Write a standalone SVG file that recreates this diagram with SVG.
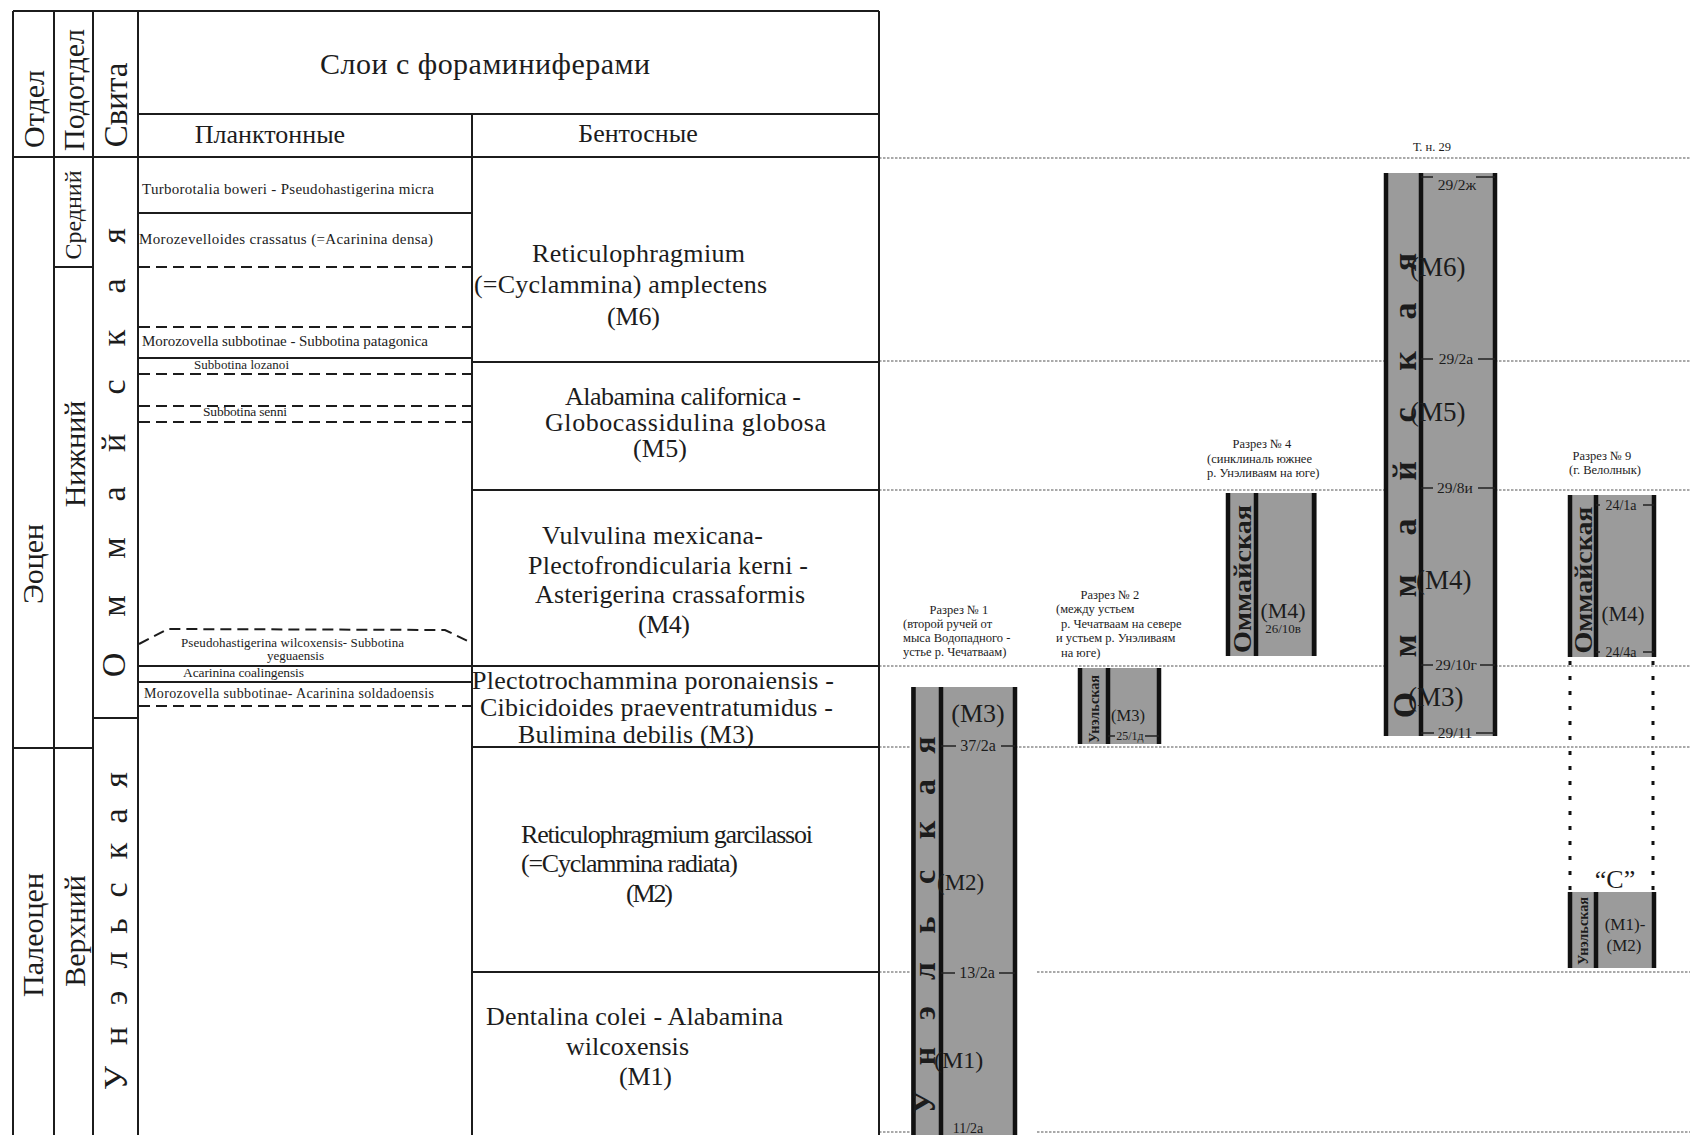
<svg xmlns="http://www.w3.org/2000/svg" width="1690" height="1135" viewBox="0 0 1690 1135">
<style>
.s{font-family:"Liberation Serif","Times New Roman",serif;fill:#1c1c1c}
.b{font-weight:bold}
.m{text-anchor:middle}
.ln{stroke:#1c1c1c;stroke-width:2;fill:none}
.ds{stroke:#1c1c1c;stroke-width:2;fill:none;stroke-dasharray:11 6}
.dt{stroke:#555;stroke-width:1.2;stroke-dasharray:2.5 1.5;fill:none}
.gr{fill:#9b9b9b}
.th{stroke:#111;stroke-width:4.5}
.tk{stroke:#222;stroke-width:1.5}
.vd{stroke:#111;stroke-width:3;stroke-dasharray:4 11;fill:none}
</style>
<rect width="1690" height="1135" fill="#fff"/>

<g id="connectors">
<line class="dt" x1="879" y1="158" x2="1690" y2="158"/>
<line class="dt" x1="879" y1="361" x2="1690" y2="361"/>
<line class="dt" x1="879" y1="490" x2="1690" y2="490"/>
<line class="dt" x1="879" y1="666" x2="1690" y2="666"/>
<line class="dt" x1="879" y1="747" x2="1690" y2="747"/>
<line class="dt" x1="879" y1="972" x2="1017" y2="972"/>
<line class="dt" x1="1037" y1="972" x2="1690" y2="972"/>
<line class="dt" x1="879" y1="1132" x2="1017" y2="1132"/>
<line class="dt" x1="1037" y1="1132" x2="1690" y2="1132"/>
<line class="vd" x1="1570" y1="661" x2="1570" y2="890"/>
<line class="vd" x1="1653" y1="661" x2="1653" y2="890"/>
</g>

<g id="table">
<line class="ln" x1="13" y1="11" x2="879" y2="11"/>
<line class="ln" x1="138" y1="114" x2="879" y2="114"/>
<line class="ln" x1="13" y1="157" x2="879" y2="157"/>
<line class="ln" x1="13" y1="11" x2="13" y2="1135"/>
<line class="ln" x1="54" y1="11" x2="54" y2="1135"/>
<line class="ln" x1="93" y1="11" x2="93" y2="1135"/>
<line class="ln" x1="138" y1="11" x2="138" y2="1135"/>
<line class="ln" x1="472" y1="114" x2="472" y2="1135"/>
<line class="ln" x1="879" y1="11" x2="879" y2="1135"/>
<line class="ln" x1="54" y1="267" x2="93" y2="267"/>
<line class="ln" x1="93" y1="718" x2="138" y2="718"/>
<line class="ln" x1="13" y1="748" x2="93" y2="748"/>
<line class="ln" x1="138" y1="213" x2="472" y2="213"/>
<line class="ln" x1="138" y1="358" x2="472" y2="358"/>
<line class="ln" x1="138" y1="666" x2="879" y2="666"/>
<line class="ln" x1="138" y1="682" x2="472" y2="682"/>
<line class="ln" x1="472" y1="362" x2="879" y2="362"/>
<line class="ln" x1="472" y1="490" x2="879" y2="490"/>
<line class="ln" x1="472" y1="747" x2="879" y2="747"/>
<line class="ln" x1="472" y1="972" x2="879" y2="972"/>
<line class="ds" x1="139" y1="267" x2="471" y2="267"/>
<line class="ds" x1="139" y1="327" x2="471" y2="327"/>
<line class="ds" x1="139" y1="374" x2="471" y2="374"/>
<line class="ds" x1="139" y1="406" x2="471" y2="406"/>
<line class="ds" x1="139" y1="422" x2="471" y2="422"/>
<line class="ds" x1="139" y1="706" x2="471" y2="706"/>
<path class="ds" d="M139,644 L168,629 L445,630 L472,643"/>

<text class="s m" font-size="30" x="485" y="74" textLength="330">Слои с фораминиферами</text>
<text class="s m" font-size="26" x="270" y="143">Планктонные</text>
<text class="s m" font-size="26" x="638" y="142">Бентосные</text>

<text class="s m" font-size="30" transform="translate(44,109) rotate(-90)">Отдел</text>
<text class="s m" font-size="30" transform="translate(84,90) rotate(-90)">Подотдел</text>
<text class="s m" font-size="33" transform="translate(127,105) rotate(-90)">Свита</text>
<text class="s m" font-size="30" transform="translate(43,564) rotate(-90)">Эоцен</text>
<text class="s m" font-size="30" transform="translate(43,935) rotate(-90)">Палеоцен</text>
<text class="s m" font-size="24" transform="translate(81,215) rotate(-90)">Средний</text>
<text class="s m" font-size="30" transform="translate(85,454) rotate(-90)">Нижний</text>
<text class="s m" font-size="30" transform="translate(85,931) rotate(-90)">Верхний</text>
<text class="s m" font-size="34" transform="translate(125,0) rotate(-90)" x="-665 -636 -606 -577 -548 -521 -494 -468 -443 -415 -387 -362 -338 -312 -286 -261 -236" y="0">О м м а й с к а я</text>
<text class="s m" font-size="34" transform="translate(127,0) rotate(-90)" x="-1078 -1057 -1036 -1017 -998 -979 -960 -943 -926 -908 -890 -870 -851 -833 -816 -799 -780" y="0">У н э л ь с к а я</text>

<text class="s" font-size="15" x="142" y="194" textLength="292">Turborotalia boweri - Pseudohastigerina micra</text>
<text class="s" font-size="15" x="139" y="244" textLength="294">Morozevelloides crassatus (=Acarinina densa)</text>
<text class="s" font-size="15" x="142" y="346" textLength="286">Morozovella subbotinae - Subbotina patagonica</text>
<text class="s" font-size="13" x="194" y="369" textLength="95">Subbotina lozanoi</text>
<text class="s" font-size="13.5" x="203" y="416" textLength="84">Subbotina senni</text>
<text class="s" font-size="13" x="181" y="647" textLength="223">Pseudohastigerina wilcoxensis- Subbotina</text>
<text class="s" font-size="13" x="267" y="660" textLength="57">yeguaensis</text>
<text class="s" font-size="13.5" x="183" y="677" textLength="121">Acarinina coalingensis</text>
<text class="s" font-size="14" x="144" y="698" textLength="290">Morozovella subbotinae- Acarinina soldadoensis</text>

<text class="s" font-size="26" x="532" y="262" textLength="213">Reticulophragmium</text>
<text class="s" font-size="26" x="474" y="293" textLength="293">(=Cyclammina) amplectens</text>
<text class="s" font-size="26" x="607" y="325" textLength="53">(M6)</text>
<text class="s" font-size="26" x="565" y="405" textLength="236">Alabamina californica -</text>
<text class="s" font-size="26" x="545" y="431" textLength="281">Globocassidulina  globosa</text>
<text class="s" font-size="26" x="633" y="457" textLength="54">(M5)</text>
<text class="s" font-size="26" x="542" y="544" textLength="221">Vulvulina mexicana-</text>
<text class="s" font-size="26" x="528" y="574" textLength="280">Plectofrondicularia kerni -</text>
<text class="s" font-size="26" x="535" y="603" textLength="270">Asterigerina crassaformis</text>
<text class="s" font-size="26" x="638" y="633" textLength="52">(M4)</text>
<text class="s" font-size="26" x="472" y="689" textLength="362">Plectotrochammina poronaiensis -</text>
<text class="s" font-size="26" x="480" y="716" textLength="353">Cibicidoides praeventratumidus -</text>
<text class="s" font-size="26" x="518" y="743" textLength="236">Bulimina debilis (M3)</text>
<text class="s" font-size="26" x="521" y="843" textLength="292">Reticulophragmium garcilassoi</text>
<text class="s" font-size="26" x="521" y="872" textLength="217">(=Cyclammina radiata)</text>
<text class="s" font-size="26" x="626" y="902" textLength="47">(M2)</text>
<text class="s" font-size="26" x="486" y="1025" textLength="297">Dentalina colei - Alabamina</text>
<text class="s" font-size="26" x="566" y="1055" textLength="123">wilcoxensis</text>
<text class="s" font-size="26" x="619" y="1085" textLength="53">(M1)</text>
</g>

<g id="section1">
<text class="s m" font-size="12.5" x="959" y="614">Разрез № 1</text>
<text class="s" font-size="12.5" x="903" y="628">(второй ручей от</text>
<text class="s" font-size="12.5" x="903" y="642">мыса Водопадного -</text>
<text class="s" font-size="12.5" x="903" y="656">устье р. Чечатваам)</text>
<rect class="gr" x="911" y="687" width="106" height="448"/>
<line class="th" x1="913.5" y1="687" x2="913.5" y2="1135"/>
<line class="th" x1="941" y1="687" x2="941" y2="1135"/>
<line class="th" x1="1015" y1="687" x2="1015" y2="1135"/>
<line class="tk" x1="941" y1="746" x2="956" y2="746"/>
<line class="tk" x1="1001" y1="746" x2="1015" y2="746"/>
<line class="tk" x1="941" y1="973" x2="955" y2="973"/>
<line class="tk" x1="999" y1="973" x2="1015" y2="973"/>
<text class="s m b" font-size="32" transform="translate(935,0) rotate(-90)" x="-1102 -1079 -1056 -1034 -1013 -992 -971 -948 -925 -901 -877 -853 -830 -808 -787 -766 -745" y="0">У н э л ь с к а я</text>
<text class="s m" font-size="26" x="978" y="722">(M3)</text>
<text class="s m" font-size="16" x="978" y="751">37/2а</text>
<text class="s" font-size="23" x="937" y="890">(M2)</text>
<text class="s m" font-size="16" x="977" y="978">13/2а</text>
<text class="s" font-size="24" x="934" y="1068">(M1)</text>
<text class="s m" font-size="14" x="968" y="1133">11/2а</text>
</g>

<g id="section2">
<text class="s m" font-size="12.5" x="1110" y="599">Разрез № 2</text>
<text class="s" font-size="12.5" x="1056" y="613">(между устьем</text>
<text class="s" font-size="12.5" x="1061" y="628">р. Чечатваам на севере</text>
<text class="s" font-size="12.5" x="1056" y="642">и устьем р. Унэливаям</text>
<text class="s" font-size="12.5" x="1061" y="657">на юге)</text>
<rect class="gr" x="1078" y="668" width="83" height="76"/>
<line class="th" x1="1080" y1="668" x2="1080" y2="744"/>
<line class="th" x1="1108" y1="668" x2="1108" y2="744"/>
<line class="th" x1="1159" y1="668" x2="1159" y2="744"/>
<line class="tk" x1="1108" y1="736" x2="1115" y2="736"/>
<line class="tk" x1="1145" y1="736" x2="1159" y2="736"/>
<text class="s m b" font-size="14" transform="translate(1099,709) rotate(-90)" textLength="68" lengthAdjust="spacingAndGlyphs">Унэльская</text>
<text class="s m" font-size="16.5" x="1128" y="721">(M3)</text>
<text class="s m" font-size="12" x="1130" y="740">25/1д</text>
</g>

<g id="section4">
<text class="s m" font-size="12.5" x="1262" y="448">Разрез № 4</text>
<text class="s" font-size="12.5" x="1207" y="463">(синклиналь южнее</text>
<text class="s" font-size="12.5" x="1207" y="477">р. Унэливаям на юге)</text>
<rect class="gr" x="1226" y="493" width="91" height="163"/>
<line class="th" x1="1228" y1="493" x2="1228" y2="656"/>
<line class="th" x1="1256" y1="493" x2="1256" y2="656"/>
<line class="th" x1="1314" y1="493" x2="1314" y2="656"/>
<text class="s m b" font-size="25" transform="translate(1251,579) rotate(-90)" textLength="148" lengthAdjust="spacingAndGlyphs">Оммайская</text>
<text class="s m" font-size="22" x="1283" y="618">(M4)</text>
<text class="s m" font-size="13" x="1283" y="633">26/10в</text>
</g>

<g id="section29">
<text class="s m" font-size="12.5" x="1432" y="151">Т. н. 29</text>
<rect class="gr" x="1384" y="173" width="113" height="563"/>
<line class="th" x1="1386" y1="173" x2="1386" y2="736"/>
<line class="th" x1="1421" y1="173" x2="1421" y2="736"/>
<line class="th" x1="1495" y1="173" x2="1495" y2="736"/>
<line class="tk" x1="1421" y1="177" x2="1433" y2="177"/>
<line class="tk" x1="1476" y1="177" x2="1495" y2="177"/>
<line class="tk" x1="1421" y1="359" x2="1433" y2="359"/>
<line class="tk" x1="1478" y1="359" x2="1495" y2="359"/>
<line class="tk" x1="1421" y1="488" x2="1433" y2="488"/>
<line class="tk" x1="1478" y1="488" x2="1495" y2="488"/>
<line class="tk" x1="1421" y1="665" x2="1433" y2="665"/>
<line class="tk" x1="1480" y1="665" x2="1495" y2="665"/>
<line class="tk" x1="1421" y1="733" x2="1434" y2="733"/>
<line class="tk" x1="1476" y1="733" x2="1495" y2="733"/>
<text class="s m b" font-size="34" transform="translate(1416,0) rotate(-90)" x="-705 -675 -646 -616 -586 -557 -527 -499 -471 -443 -415 -388 -361 -336 -311 -286 -262" y="0">О м м а й с к а я</text>
<text class="s m" font-size="15.5" x="1457" y="190">29/2ж</text>
<text class="s" font-size="27" x="1410" y="276">(M6)</text>
<text class="s m" font-size="15.5" x="1456" y="364">29/2а</text>
<text class="s" font-size="27" x="1410" y="421">(M5)</text>
<text class="s m" font-size="15.5" x="1455" y="493">29/8и</text>
<text class="s" font-size="27" x="1416" y="589">(M4)</text>
<text class="s m" font-size="15.5" x="1456" y="670">29/10г</text>
<text class="s" font-size="27" x="1408" y="706">(M3)</text>
<text class="s m" font-size="15.5" x="1455" y="738">29/11</text>
</g>

<g id="section9">
<text class="s m" font-size="12.5" x="1602" y="460">Разрез № 9</text>
<text class="s m" font-size="12.5" x="1605" y="474">(г. Велолнык)</text>
<rect class="gr" x="1568" y="495" width="88" height="162"/>
<line class="th" x1="1570" y1="495" x2="1570" y2="657"/>
<line class="th" x1="1596" y1="495" x2="1596" y2="657"/>
<line class="th" x1="1654" y1="495" x2="1654" y2="657"/>
<line class="tk" x1="1596" y1="505" x2="1600" y2="505"/>
<line class="tk" x1="1643" y1="505" x2="1654" y2="505"/>
<line class="tk" x1="1596" y1="652" x2="1600" y2="652"/>
<line class="tk" x1="1643" y1="652" x2="1654" y2="652"/>
<text class="s m b" font-size="25" transform="translate(1592,580) rotate(-90)" textLength="147" lengthAdjust="spacingAndGlyphs">Оммайская</text>
<text class="s m" font-size="14" x="1621" y="510">24/1а</text>
<text class="s m" font-size="21" x="1623" y="621">(M4)</text>
<text class="s m" font-size="14" x="1621" y="657">24/4а</text>
<text class="s m" font-size="26" x="1615" y="888">“С”</text>
<rect class="gr" x="1568" y="892" width="88" height="76"/>
<line class="th" x1="1570" y1="892" x2="1570" y2="968"/>
<line class="th" x1="1596" y1="892" x2="1596" y2="968"/>
<line class="th" x1="1654" y1="892" x2="1654" y2="968"/>
<text class="s m b" font-size="14" transform="translate(1588,931) rotate(-90)" textLength="68" lengthAdjust="spacingAndGlyphs">Унэльская</text>
<text class="s m" font-size="17" x="1625" y="930">(M1)-</text>
<text class="s m" font-size="17" x="1624" y="951">(M2)</text>
</g>
</svg>
